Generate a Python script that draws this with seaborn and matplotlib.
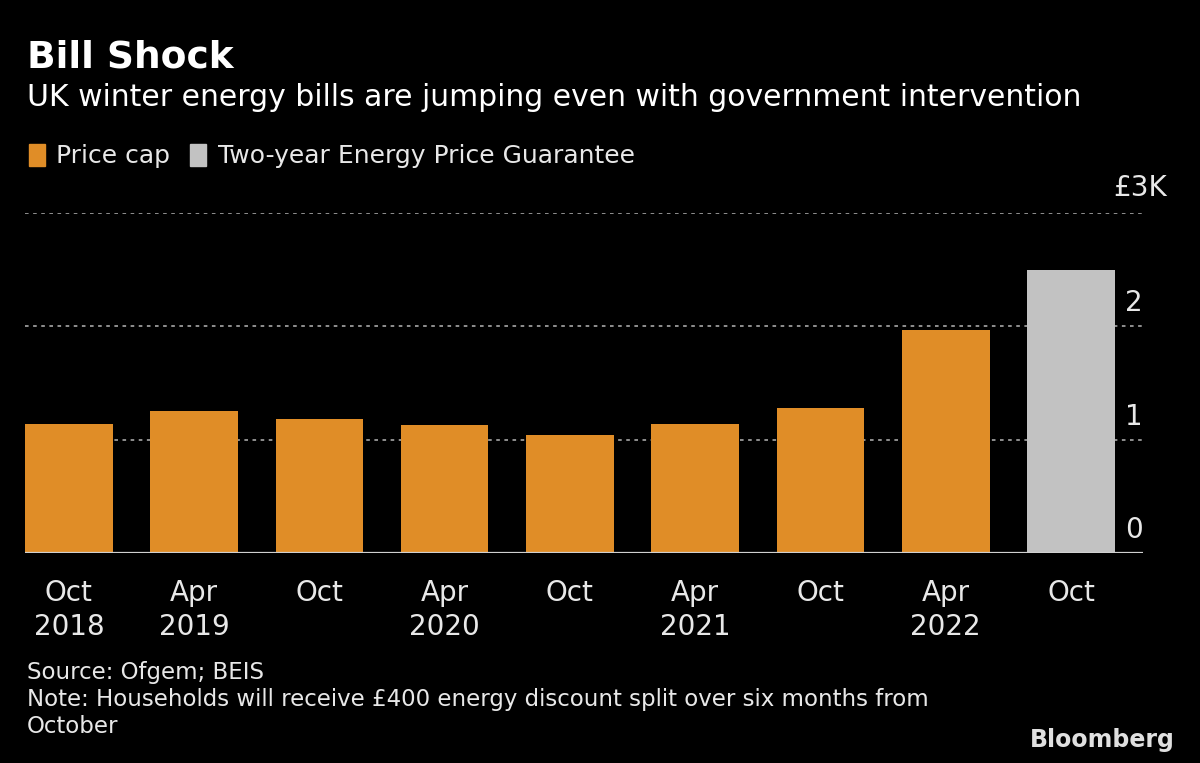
import matplotlib
matplotlib.use("Agg")
import matplotlib.pyplot as plt
import matplotlib.patches as mpatches
import seaborn as sns
import pandas as pd

# data (UK default tariff cap, £K per year)
periods = ["2018-10", "2019-04", "2019-10", "2020-04", "2020-10",
           "2021-04", "2021-10", "2022-04", "2022-10"]
tick_labels = ["Oct\n2018", "Apr\n2019", "Oct", "Apr\n2020", "Oct",
               "Apr\n2021", "Oct", "Apr\n2022", "Oct"]
bill_k = [1.137, 1.254, 1.179, 1.126, 1.042, 1.138, 1.277, 1.971, 2.500]
series = ["Price cap"] * 8 + ["Two-year Energy Price Guarantee"]
y_ticks = [0, 1, 2, 3]

ORANGE = "#E08D27"
GREY = "#C2C2C2"
TXT = "#E8E8E8"
BG = "#000000"

sns.set_style("dark")
plt.rcParams["font.family"] = ["DejaVu Sans"]

df = pd.DataFrame({"period": periods, "bill": bill_k, "series": series})

fig = plt.figure(figsize=(12, 7.63), dpi=100, facecolor=BG)
W, H = 1200, 763
# axes spans px 25..1143 horizontally, 213..553 vertically
ax = fig.add_axes([25 / W, (H - 553) / H, (1143 - 25) / W, (553 - 213) / H])
ax.set_facecolor(BG)

sns.barplot(data=df, x="period", y="bill", hue="series", dodge=False,
            palette={"Price cap": ORANGE, "Two-year Energy Price Guarantee": GREY},
            width=0.7, saturation=1, legend=False, ax=ax, zorder=3,
            linewidth=0, edgecolor="none")

ax.set_xlim(-0.35, 8.575)
ax.set_ylim(0, 3)
for s in ax.spines.values():
    s.set_visible(False)
ax.grid(False)

# dotted grid lines
for v in y_ticks[1:]:
    ax.axhline(v, color="#9A9A9A", lw=1.3, ls=(0, (2, 2.5)), zorder=1)
ax.axhline(0, color="#D0D0D0", lw=1.6, zorder=4)

ax.set_yticks([])
ax.set_xticks(range(len(periods)))
ax.set_xticklabels(tick_labels, color=TXT, fontsize=20, linespacing=1.25)
ax.tick_params(axis="x", colors="#D0D0D0", length=9, width=1.3, pad=10,
               labelcolor=TXT)
ax.set_xlabel("")
ax.set_ylabel("")

# y labels on the right, sitting above their grid lines
for v in y_ticks[:-1]:
    ax.text(1.0, v + 0.08, str(v), transform=ax.get_yaxis_transform(),
            ha="right", va="bottom", color=TXT, fontsize=20)
ax.text(1113 / W, (H - 188) / H, "£3K", transform=fig.transFigure,
        ha="left", va="center", color=TXT, fontsize=20)

# titles
fig.text(27 / W, (H - 57) / H, "Bill Shock", color="white", fontsize=27,
         fontweight="bold", va="center", ha="left")
fig.text(27 / W, (H - 98) / H,
         "UK winter energy bills are jumping even with government intervention",
         color="white", fontsize=21.5, va="center", ha="left")

# legend
handles = [mpatches.Patch(color=ORANGE, label="Price cap"),
           mpatches.Patch(color=GREY, label="Two-year Energy Price Guarantee")]
fig.legend(handles=handles, loc="center left",
           bbox_to_anchor=(6 / W, (H - 156) / H), ncol=2, frameon=False,
           fontsize=18, labelcolor=TXT, handlelength=0.65, handleheight=1.0,
           handletextpad=0.45, columnspacing=0.8)

# footer
fig.text(27 / W, (H - 672) / H, "Source: Ofgem; BEIS", color=TXT,
         fontsize=16.5, va="center")
fig.text(27 / W, (H - 713) / H,
         "Note: Households will receive £400 energy discount split over six months from\nOctober",
         color=TXT, fontsize=16.5, va="center", linespacing=1.25)
fig.text(1175 / W, (H - 740) / H, "Bloomberg", color="#E0E0E0", fontsize=17,
         fontweight="bold", ha="right", va="center")

fig.savefig("out.png", dpi=100, facecolor=BG)
